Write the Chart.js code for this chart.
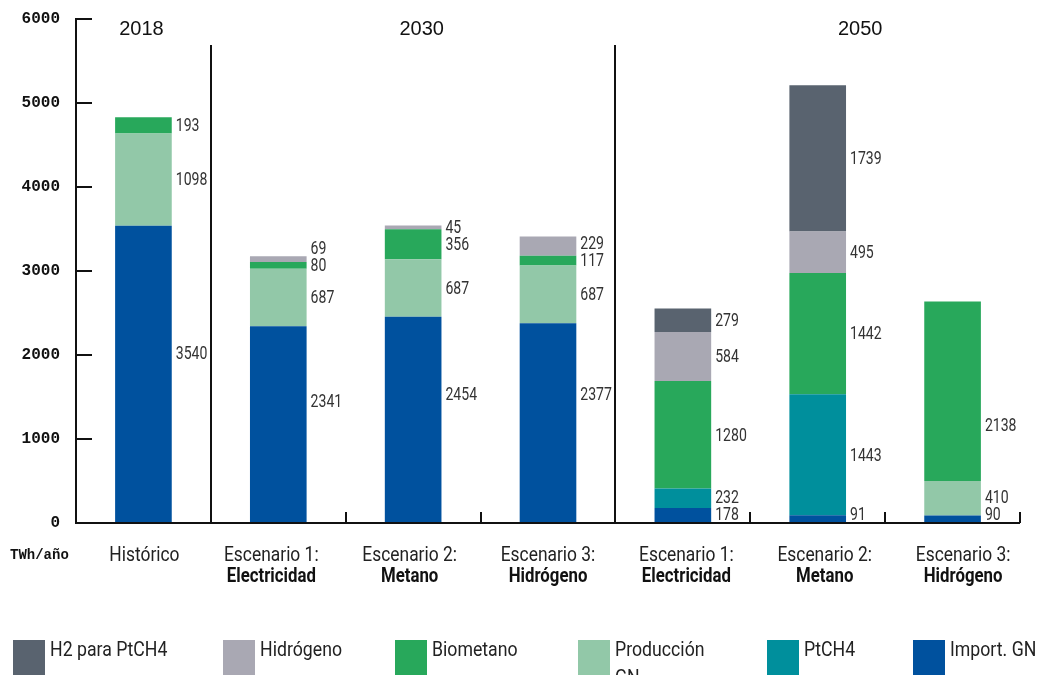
<!DOCTYPE html>
<html>
<head>
<meta charset="utf-8">
<script src="https://cdn.jsdelivr.net/npm/chart.js@4"></script>
<style>
  html, body { margin: 0; padding: 0; background: #fff; }
  #wrap { width: 1051px; height: 675px; position: relative; }
</style>
</head>
<body>
<div id="wrap"><canvas id="c" width="1051" height="675"></canvas></div>
<script>
// ---- Data ----
const categoriesTop  = ["Histórico", "Escenario 1:", "Escenario 2:", "Escenario 3:", "Escenario 1:", "Escenario 2:", "Escenario 3:"];
const categoriesBold = ["", "Electricidad", "Metano", "Hidrógeno", "Electricidad", "Metano", "Hidrógeno"];
const years = ["2018", "2030", "2050"];
const yTicks = [0, 1000, 2000, 3000, 4000, 5000, 6000];
const unitLabel = "TWh/año";

const importGN   = [3540, 2341, 2454, 2377, 178, 91, 90];
const ptch4      = [null, null, null, null, 232, 1443, null];
const produccion = [1098, 687, 687, 687, null, null, 410];
const biometano  = [193, 80, 356, 117, 1280, 1442, 2138];
const hidrogeno  = [null, 69, 45, 229, 584, 495, null];
const h2ptch4    = [null, null, null, null, 279, 1739, null];

const seriesNames = ["Import. GN", "PtCH4", "Producción GN", "Biometano", "Hidrógeno", "H2 para PtCH4"];
const seriesColors = ["#00519e", "#008f9c", "#92c8a8", "#28a85b", "#a9a8b3", "#59636f"];
const seriesData = [importGN, ptch4, produccion, biometano, hidrogeno, h2ptch4];

// legend order (left to right)
const legendOrder = [5, 4, 3, 2, 1, 0];
const legendText = ["H2 para PtCH4", "Hidrógeno", "Biometano", ["Producción", "GN"], "PtCH4", "Import. GN"];

const datasets = seriesData.map((d, i) => ({
  label: seriesNames[i],
  data: d,
  backgroundColor: seriesColors[i],
  borderWidth: 0,
  stack: "s"
}));

function sText(ctx, s, x, y, font, align, sx, color) {
  ctx.save();
  ctx.font = font;
  ctx.fillStyle = color;
  ctx.textAlign = align;
  ctx.translate(x, y);
  ctx.scale(sx, 1);
  ctx.fillText(s, 0, 0);
  ctx.restore();
}

const decor = {
  id: "decor",
  afterDraw(chart, args, opts) {
    const ctx = chart.ctx;
    const xs = chart.scales.x, ys = chart.scales.y;
    const area = chart.chartArea;
    const px = i => xs.getPixelForValue(i);
    const step = px(1) - px(0);
    const y0 = ys.getPixelForValue(0);
    ctx.save();
    ctx.strokeStyle = "#111";
    ctx.lineWidth = 2;
    ctx.lineCap = "butt";
    // y axis
    ctx.beginPath();
    ctx.moveTo(area.left, ys.getPixelForValue(6000) - 1);
    ctx.lineTo(area.left, y0 + 1);
    ctx.stroke();
    yTicks.forEach(v => {
      const y = ys.getPixelForValue(v);
      ctx.beginPath(); ctx.moveTo(area.left, y); ctx.lineTo(area.left + 16, y); ctx.stroke();
    });
    // x axis
    ctx.beginPath();
    ctx.moveTo(area.left, y0);
    ctx.lineTo(area.right, y0);
    ctx.stroke();
    // small ticks at category boundaries
    [1.5, 2.5, 4.5, 5.5, 6.5].forEach(b => {
      const x = Math.round(px(b));
      ctx.beginPath(); ctx.moveTo(x, y0); ctx.lineTo(x, y0 - 11); ctx.stroke();
    });
    // period dividers
    [0.5, 3.5].forEach(b => {
      const x = Math.round(px(b));
      ctx.beginPath(); ctx.moveTo(x, 45); ctx.lineTo(x, y0); ctx.stroke();
    });
    ctx.restore();

    // year labels
    const yearPos = [-0.015, 2.063, 5.315];
    years.forEach((t, i) => {
      sText(ctx, t, px(yearPos[i]), 35, "20px 'Liberation Sans', Arial, sans-serif", "center", 1, "#111");
    });

    // category labels
    categoriesTop.forEach((t, i) => {
      const x = i === 0 ? px(0) + 1 : px(1) - 7 + (i - 1) * step * 1.026;
      sText(ctx, t, x, 561, "20px Roboto, sans-serif", "center", 0.87, "#222");
      if (categoriesBold[i]) {
        sText(ctx, categoriesBold[i], x, 582, "bold 20px Roboto, sans-serif", "center", 0.84, "#111");
      }
    });

    // unit label
    sText(ctx, unitLabel, 10, 559, "bold 14px 'Liberation Mono', monospace", "left", 1, "#111");

    // value labels
    const shift = opts.labelShift || {};
    for (let j = 0; j < categoriesTop.length; j++) {
      const items = [];
      chart.data.datasets.forEach((ds, i) => {
        const v = ds.data[j];
        if (v == null) return;
        const el = chart.getDatasetMeta(i).data[j];
        const y = (el.y + el.base) / 2 + (shift[i + "-" + j] || 0);
        items.push({ v, y, x: el.x + el.width / 2 + 4 });
      });
      for (let k = 0; k < items.length; k++) {
        if (k === 0) items[k].y = Math.min(items[k].y, y0 - 9);
        else if (items[k].y > items[k - 1].y - 17) items[k].y = items[k - 1].y - 17;
      }
      items.forEach(it => {
        ctx.save();
        ctx.textBaseline = "middle";
        sText(ctx, String(it.v), it.x, it.y + 1, "19px Roboto, sans-serif", "left", 0.74, "#333");
        ctx.restore();
      });
    }

    // legend
    const lx = [13, 223, 395, 578, 767, 913];
    legendOrder.forEach((si, k) => {
      ctx.fillStyle = seriesColors[si];
      ctx.fillRect(lx[k], 640, 32, 35);
      const t = legendText[k];
      const lines = Array.isArray(t) ? t : [t];
      lines.forEach((ln, li) => {
        sText(ctx, ln, lx[k] + 37, 656 + li * 28, "20px Roboto, sans-serif", "left", 0.885, "#222");
      });
    });
  }
};

new Chart(document.getElementById("c"), {
  type: "bar",
  data: { labels: categoriesTop, datasets },
  options: {
    responsive: false,
    animation: false,
    devicePixelRatio: 1,
    layout: { padding: { left: 0, top: 19, right: 31, bottom: 152 } },
    plugins: {
      legend: { display: false },
      tooltip: { enabled: false },
      decor: { labelShift: { "0-0": -21, "0-1": -23, "0-2": -26, "0-3": -29, "3-6": 34 } }
    },
    datasets: { bar: { categoryPercentage: 1, barPercentage: 0.42 } },
    scales: {
      x: { stacked: true, display: false, offset: true },
      y: {
        stacked: true,
        min: 0, max: 6000,
        afterFit(s) { s.width = 76; s.paddingTop = 0; s.paddingBottom = 0; },
        grid: { display: false, drawTicks: false },
        border: { display: false },
        ticks: {
          stepSize: 1000,
          padding: 16,
          color: "#111",
          callback: v => String(v),
          font: { family: "'Liberation Mono', monospace", size: 16, weight: "bold" }
        }
      }
    }
  },
  plugins: [decor]
});
</script>
</body>
</html>
